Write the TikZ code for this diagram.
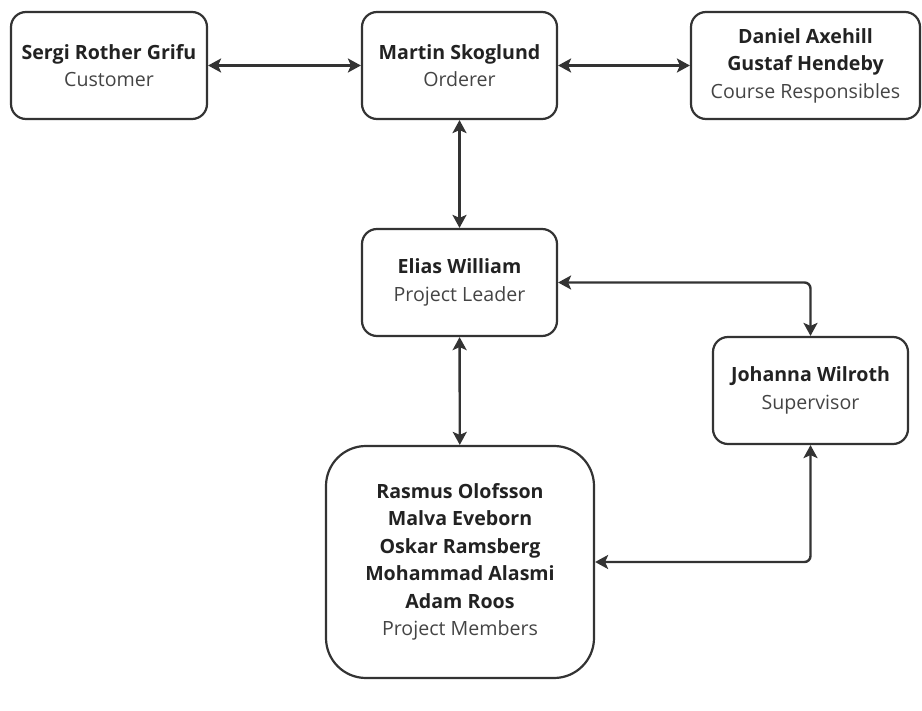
\documentclass[tikz,border=0pt]{standalone}
\usepackage{fontspec}
\setmainfont{Open Sans}
\usetikzlibrary{arrows.meta}
\definecolor{linec}{HTML}{333333}
\definecolor{namec}{HTML}{222222}
\definecolor{rolec}{HTML}{444444}
\tikzset{
  box/.style={draw=linec, line width=2.2pt, rounded corners=15pt, align=center,
    font=\fontsize{19.6}{27.5}\selectfont, inner sep=0pt},
  conn/.style={draw=linec, line width=2.4pt, {Stealth[length=13pt,width=14pt,inset=3pt]}-{Stealth[length=13pt,width=14pt,inset=3pt]}},
}
\newcommand{\nm}[1]{\textcolor{namec}{\textbf{#1}}}
\newcommand{\rl}[1]{\textcolor{rolec}{#1}}
\begin{document}
\begin{tikzpicture}[x=1pt,y=-1pt]
\useasboundingbox (0,0) rectangle (922,711);
\node[box, minimum width=196pt, minimum height=107pt] (cust) at (109,65.5)
  {\nm{Sergi Rother Grifu}\\\rl{Customer}};
\node[box, minimum width=195pt, minimum height=107pt] (ord) at (459.5,65.5)
  {\nm{Martin Skoglund}\\\rl{Orderer}};
\node[box, minimum width=229pt, minimum height=107pt] (course) at (805.5,65.5)
  {\nm{Daniel Axehill}\\\nm{Gustaf Hendeby}\\\rl{Course Responsibles}};
\node[box, minimum width=195pt, minimum height=107pt] (lead) at (459.5,282.5)
  {\nm{Elias William}\\\rl{Project Leader}};
\node[box, minimum width=195pt, minimum height=107pt] (sup) at (810.5,390.5)
  {\nm{Johanna Wilroth}\\\rl{Supervisor}};
\node[box, rounded corners=40pt, minimum width=268pt, minimum height=232pt] (mem) at (460,562)
  {\nm{Rasmus Olofsson}\\\nm{Malva Eveborn}\\\nm{Oskar Ramsberg}\\\nm{Mohammad Alasmi}\\\nm{Adam Roos}\\\rl{Project Members}};
\draw[conn] (cust) -- (ord);
\draw[conn] (ord) -- (course);
\draw[conn] (ord) -- (lead);
\draw[conn] (lead) -- (mem);
\draw[conn, rounded corners=6pt] (lead.east) -| (sup.north);
\draw[conn, rounded corners=6pt] (sup.south) |- (mem.east);
\end{tikzpicture}
\end{document}
